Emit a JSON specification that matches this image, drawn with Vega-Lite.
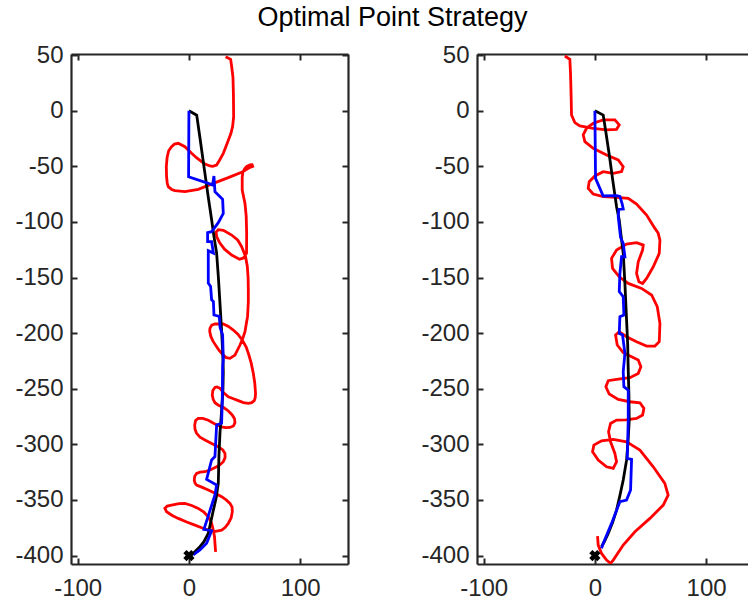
{
  "$schema": "https://vega.github.io/schema/vega-lite/v6.json",
  "background": "white",
  "padding": {"left": 14, "top": 4, "right": 0, "bottom": 0},
  "title": {"text": "Optimal Point Strategy", "font": "Liberation Sans", "fontSize": 27, "fontWeight": "normal", "color": "#000000", "anchor": "middle", "dx": 11, "offset": 11},
  "config": {
    "view": {"stroke": null},
    "axis": {"domainColor": "#262626", "domainWidth": 2.2, "tickColor": "#262626", "tickWidth": 2, "tickSize": -6, "labelFont": "Liberation Sans", "labelFontSize": 24, "labelColor": "#262626", "grid": false, "labelFlush": false, "labelOverlap": false, "labelBound": false, "labelExpr": "'' + datum.value"},
    "axisX": {"labelPadding": 18},
    "axisY": {"labelPadding": 14}
  },
  "datasets": {
    "left": [
      {"s":"actual","x":33,"y":48.6},{"s":"actual","x":37.5,"y":46.2},{"s":"actual","x":38.4,"y":40},{"s":"actual","x":39.6,"y":30},{"s":"actual","x":40,"y":15},{"s":"actual","x":40.2,"y":-5.4},{"s":"actual","x":39.3,"y":-14},{"s":"actual","x":37.8,"y":-20.3},{"s":"actual","x":34.5,"y":-29},{"s":"actual","x":30.9,"y":-38.3},{"s":"actual","x":27.5,"y":-44.5},{"s":"actual","x":24.9,"y":-48.8},{"s":"actual","x":21.5,"y":-50},{"s":"actual","x":18.9,"y":-49.7},{"s":"actual","x":14.5,"y":-48},{"s":"actual","x":11.4,"y":-45.8},{"s":"actual","x":6.5,"y":-42},{"s":"actual","x":2.4,"y":-38.3},{"s":"actual","x":-3.6,"y":-32.3},{"s":"actual","x":-9.6,"y":-29.3},{"s":"actual","x":-13,"y":-30},{"s":"actual","x":-15.6,"y":-32.3},{"s":"actual","x":-18.2,"y":-36},{"s":"actual","x":-19.6,"y":-42},{"s":"actual","x":-20.3,"y":-50},{"s":"actual","x":-20.1,"y":-59.3},{"s":"actual","x":-19.5,"y":-65},{"s":"actual","x":-18.6,"y":-68.3},{"s":"actual","x":-15.5,"y":-70.8},{"s":"actual","x":-12.6,"y":-71.9},{"s":"actual","x":-3.6,"y":-72.8},{"s":"actual","x":8.4,"y":-70.7},{"s":"actual","x":21.9,"y":-65.3},{"s":"actual","x":35.4,"y":-60.2},{"s":"actual","x":47.9,"y":-55.1},{"s":"actual","x":54.9,"y":-50.9},{"s":"actual","x":57.3,"y":-50},{"s":"actual","x":56.8,"y":-48.6},{"s":"actual","x":54.9,"y":-48.8},{"s":"actual","x":52,"y":-50},{"s":"actual","x":50.4,"y":-51.8},{"s":"actual","x":48.5,"y":-55},{"s":"actual","x":47.9,"y":-60},{"s":"actual","x":47.9,"y":-71.3},{"s":"actual","x":50.4,"y":-83.3},{"s":"actual","x":51.5,"y":-95},{"s":"actual","x":51.9,"y":-110},{"s":"actual","x":51.8,"y":-128},{"s":"actual","x":49,"y":-132.5},{"s":"actual","x":45.5,"y":-133.5},{"s":"actual","x":38.4,"y":-129.8},{"s":"actual","x":32,"y":-124.5},{"s":"actual","x":27.5,"y":-118.5},{"s":"actual","x":24.9,"y":-113.3},{"s":"actual","x":24.5,"y":-109},{"s":"actual","x":26.4,"y":-107},{"s":"actual","x":31,"y":-107.5},{"s":"actual","x":38.4,"y":-111.8},{"s":"actual","x":44,"y":-116.5},{"s":"actual","x":47.4,"y":-122.3},{"s":"actual","x":50.9,"y":-131},{"s":"actual","x":52.5,"y":-140},{"s":"actual","x":53.2,"y":-150},{"s":"actual","x":53.4,"y":-161.2},{"s":"actual","x":53.4,"y":-172},{"s":"actual","x":52.7,"y":-185.2},{"s":"actual","x":51.5,"y":-192},{"s":"actual","x":50.4,"y":-198.7},{"s":"actual","x":48.3,"y":-205},{"s":"actual","x":45.9,"y":-210.7},{"s":"actual","x":41.4,"y":-219.7},{"s":"actual","x":36.9,"y":-222.7},{"s":"actual","x":33.5,"y":-222},{"s":"actual","x":30.9,"y":-219.7},{"s":"actual","x":27.5,"y":-216},{"s":"actual","x":24.9,"y":-212.2},{"s":"actual","x":21.5,"y":-207},{"s":"actual","x":19.8,"y":-203.2},{"s":"actual","x":18.7,"y":-198.5},{"s":"actual","x":18.9,"y":-195.7},{"s":"actual","x":20.5,"y":-192.8},{"s":"actual","x":23.4,"y":-191.8},{"s":"actual","x":30.9,"y":-191.8},{"s":"actual","x":35.5,"y":-194},{"s":"actual","x":39.9,"y":-197.2},{"s":"actual","x":44,"y":-201},{"s":"actual","x":47.9,"y":-206.2},{"s":"actual","x":51.5,"y":-212.5},{"s":"actual","x":53.9,"y":-219.7},{"s":"actual","x":56,"y":-227},{"s":"actual","x":57.9,"y":-236.2},{"s":"actual","x":59.2,"y":-245},{"s":"actual","x":59.9,"y":-254.2},{"s":"actual","x":59.6,"y":-258},{"s":"actual","x":58.7,"y":-260.7},{"s":"actual","x":56.5,"y":-262.5},{"s":"actual","x":53.4,"y":-263.2},{"s":"actual","x":49,"y":-262.5},{"s":"actual","x":44.4,"y":-260.7},{"s":"actual","x":40,"y":-259},{"s":"actual","x":35.4,"y":-257.2},{"s":"actual","x":31,"y":-253.5},{"s":"actual","x":27.9,"y":-249.6},{"s":"actual","x":25.2,"y":-248.4},{"s":"actual","x":23.4,"y":-248.8},{"s":"actual","x":21.5,"y":-251.5},{"s":"actual","x":21,"y":-255.7},{"s":"actual","x":21.8,"y":-259.5},{"s":"actual","x":23.4,"y":-262.6},{"s":"actual","x":26.5,"y":-264.8},{"s":"actual","x":30.9,"y":-266.7},{"s":"actual","x":35.5,"y":-270},{"s":"actual","x":38.9,"y":-273.6},{"s":"actual","x":41,"y":-277},{"s":"actual","x":41.4,"y":-280.5},{"s":"actual","x":40,"y":-283.5},{"s":"actual","x":36.9,"y":-284.8},{"s":"actual","x":33,"y":-285},{"s":"actual","x":29.4,"y":-284.3},{"s":"actual","x":23,"y":-281.5},{"s":"actual","x":17.4,"y":-278.3},{"s":"actual","x":12.5,"y":-276.7},{"s":"actual","x":8.4,"y":-276.6},{"s":"actual","x":6,"y":-278.5},{"s":"actual","x":5.2,"y":-282.6},{"s":"actual","x":5.5,"y":-286.5},{"s":"actual","x":6.9,"y":-290.1},{"s":"actual","x":10,"y":-293.5},{"s":"actual","x":14.4,"y":-296.1},{"s":"actual","x":20,"y":-299},{"s":"actual","x":26.4,"y":-302.1},{"s":"actual","x":30.5,"y":-305},{"s":"actual","x":32.4,"y":-308.1},{"s":"actual","x":32.5,"y":-312},{"s":"actual","x":30.9,"y":-315.6},{"s":"actual","x":28,"y":-318.3},{"s":"actual","x":24.9,"y":-320.1},{"s":"actual","x":19.5,"y":-322.8},{"s":"actual","x":14.4,"y":-324.6},{"s":"actual","x":10,"y":-325},{"s":"actual","x":6.9,"y":-326.1},{"s":"actual","x":5.2,"y":-328.8},{"s":"actual","x":4.8,"y":-332.1},{"s":"actual","x":5.5,"y":-334.8},{"s":"actual","x":6.9,"y":-336.6},{"s":"actual","x":11.5,"y":-338.5},{"s":"actual","x":17.4,"y":-341.1},{"s":"actual","x":23.5,"y":-344},{"s":"actual","x":29.4,"y":-347.1},{"s":"actual","x":33.5,"y":-350},{"s":"actual","x":36.9,"y":-353.1},{"s":"actual","x":38.8,"y":-356.5},{"s":"actual","x":39,"y":-360.6},{"s":"actual","x":38,"y":-366},{"s":"actual","x":35.4,"y":-371.1},{"s":"actual","x":32.5,"y":-374.8},{"s":"actual","x":29.4,"y":-377.1},{"s":"actual","x":24,"y":-378.2},{"s":"actual","x":17.4,"y":-377.1},{"s":"actual","x":11.5,"y":-375},{"s":"actual","x":5.4,"y":-372.6},{"s":"actual","x":-2,"y":-369.8},{"s":"actual","x":-9.6,"y":-366.6},{"s":"actual","x":-15,"y":-364},{"s":"actual","x":-20.1,"y":-360.6},{"s":"actual","x":-21.6,"y":-357.6},{"s":"actual","x":-19.5,"y":-355.5},{"s":"actual","x":-15.6,"y":-354.6},{"s":"actual","x":-9,"y":-353.3},{"s":"actual","x":-3.6,"y":-353.1},{"s":"actual","x":2.5,"y":-355},{"s":"actual","x":8.4,"y":-357.6},{"s":"actual","x":13.5,"y":-361},{"s":"actual","x":17.4,"y":-365.1},{"s":"actual","x":20.3,"y":-370.5},{"s":"actual","x":21.9,"y":-377.1},{"s":"actual","x":23,"y":-383},{"s":"actual","x":23.4,"y":-389.1},{"s":"actual","x":24,"y":-396.6},
      {"s":"reference","x":0,"y":0},{"s":"reference","x":7,"y":-4},{"s":"reference","x":10,"y":-25},{"s":"reference","x":13.5,"y":-50},{"s":"reference","x":17,"y":-75},{"s":"reference","x":20.4,"y":-98},{"s":"reference","x":22.5,"y":-113},{"s":"reference","x":24.9,"y":-128},{"s":"reference","x":26.5,"y":-150},{"s":"reference","x":27.9,"y":-173},{"s":"reference","x":29.5,"y":-200},{"s":"reference","x":30.5,"y":-220},{"s":"reference","x":30.9,"y":-235},{"s":"reference","x":30.6,"y":-250},{"s":"reference","x":30,"y":-260},{"s":"reference","x":29,"y":-275},{"s":"reference","x":27.9,"y":-290},{"s":"reference","x":27,"y":-310},{"s":"reference","x":26.4,"y":-335},{"s":"reference","x":24.5,"y":-348},{"s":"reference","x":22,"y":-359},{"s":"reference","x":17.4,"y":-380},{"s":"reference","x":13.5,"y":-387.5},{"s":"reference","x":9.9,"y":-392},{"s":"reference","x":6,"y":-396},{"s":"reference","x":2.4,"y":-399.5},
      {"s":"optimal","x":0,"y":0},{"s":"optimal","x":-0.3,"y":-59.4},{"s":"optimal","x":17.4,"y":-65.3},{"s":"optimal","x":21.3,"y":-66.8},{"s":"optimal","x":22.5,"y":-58.7},{"s":"optimal","x":23.4,"y":-72.8},{"s":"optimal","x":26.4,"y":-75.8},{"s":"optimal","x":30.3,"y":-79.7},{"s":"optimal","x":30.9,"y":-92.3},{"s":"optimal","x":26.4,"y":-100.7},{"s":"optimal","x":20.4,"y":-108.8},{"s":"optimal","x":16.8,"y":-109.7},{"s":"optimal","x":16.8,"y":-117.8},{"s":"optimal","x":20.4,"y":-117.8},{"s":"optimal","x":22,"y":-128},{"s":"optimal","x":17.4,"y":-125.8},{"s":"optimal","x":17.4,"y":-155},{"s":"optimal","x":19.5,"y":-158},{"s":"optimal","x":20.4,"y":-170},{"s":"optimal","x":22,"y":-171.6},{"s":"optimal","x":22.5,"y":-183.7},{"s":"optimal","x":27.3,"y":-185},{"s":"optimal","x":28,"y":-195},{"s":"optimal","x":30.3,"y":-201.7},{"s":"optimal","x":30.9,"y":-224},{"s":"optimal","x":30.3,"y":-230},{"s":"optimal","x":30,"y":-260},{"s":"optimal","x":29.4,"y":-281},{"s":"optimal","x":24.9,"y":-282.6},{"s":"optimal","x":23.4,"y":-311},{"s":"optimal","x":20.4,"y":-314},{"s":"optimal","x":15.9,"y":-331.5},{"s":"optimal","x":24.9,"y":-336.6},{"s":"optimal","x":23.4,"y":-345.6},{"s":"optimal","x":13.5,"y":-376.4},{"s":"optimal","x":20.4,"y":-377.7},{"s":"optimal","x":15.9,"y":-389},{"s":"optimal","x":9.9,"y":-395},{"s":"optimal","x":3.9,"y":-399.5}
    ],
    "right": [
      {"s":"actual","x":-27,"y":49.2},{"s":"actual","x":-22.5,"y":46.2},{"s":"actual","x":-21.9,"y":33.6},{"s":"actual","x":-21.4,"y":15},{"s":"actual","x":-21,"y":-3.8},{"s":"actual","x":-18,"y":-10.7},{"s":"actual","x":-13.5,"y":-13.7},{"s":"actual","x":-1.5,"y":-15.8},{"s":"actual","x":10.5,"y":-17.3},{"s":"actual","x":19.5,"y":-16.7},{"s":"actual","x":21.9,"y":-12.8},{"s":"actual","x":18,"y":-8.3},{"s":"actual","x":7.5,"y":-8.3},{"s":"actual","x":-1.5,"y":-11.3},{"s":"actual","x":-7.5,"y":-15.8},{"s":"actual","x":-10.5,"y":-21.8},{"s":"actual","x":-9,"y":-27.8},{"s":"actual","x":-1.5,"y":-33.8},{"s":"actual","x":10.5,"y":-39.8},{"s":"actual","x":21,"y":-44.3},{"s":"actual","x":25.5,"y":-50.3},{"s":"actual","x":24,"y":-54.8},{"s":"actual","x":16.5,"y":-56.3},{"s":"actual","x":7.5,"y":-54.8},{"s":"actual","x":0,"y":-58.7},{"s":"actual","x":-5.1,"y":-63.8},{"s":"actual","x":-6,"y":-69.8},{"s":"actual","x":-1.5,"y":-74.9},{"s":"actual","x":7.5,"y":-77.3},{"s":"actual","x":19.5,"y":-77.9},{"s":"actual","x":30,"y":-78.8},{"s":"actual","x":37.5,"y":-83.9},{"s":"actual","x":46.5,"y":-93.8},{"s":"actual","x":54,"y":-105.8},{"s":"actual","x":56.9,"y":-110},{"s":"actual","x":58.5,"y":-116.3},{"s":"actual","x":57.9,"y":-128.3},{"s":"actual","x":52.5,"y":-140.3},{"s":"actual","x":46.5,"y":-150.8},{"s":"actual","x":42.9,"y":-155.3},{"s":"actual","x":39.6,"y":-153.8},{"s":"actual","x":37.5,"y":-146.3},{"s":"actual","x":39,"y":-135.8},{"s":"actual","x":42.9,"y":-125.3},{"s":"actual","x":43.5,"y":-120.8},{"s":"actual","x":37.5,"y":-118.7},{"s":"actual","x":28.5,"y":-119.9},{"s":"actual","x":19.5,"y":-125.3},{"s":"actual","x":15,"y":-132.8},{"s":"actual","x":15.9,"y":-141.8},{"s":"actual","x":21.9,"y":-149.3},{"s":"actual","x":30,"y":-155.3},{"s":"actual","x":42,"y":-159.8},{"s":"actual","x":51,"y":-165.7},{"s":"actual","x":56.1,"y":-176.2},{"s":"actual","x":58.5,"y":-191.2},{"s":"actual","x":57.9,"y":-207.7},{"s":"actual","x":54,"y":-211.6},{"s":"actual","x":46.5,"y":-211.6},{"s":"actual","x":37.5,"y":-207.7},{"s":"actual","x":28.5,"y":-203.2},{"s":"actual","x":21.9,"y":-198.7},{"s":"actual","x":18.6,"y":-201.7},{"s":"actual","x":20.1,"y":-210.7},{"s":"actual","x":25.5,"y":-217.6},{"s":"actual","x":33,"y":-221.2},{"s":"actual","x":39,"y":-224.2},{"s":"actual","x":41.4,"y":-230.2},{"s":"actual","x":39,"y":-236.2},{"s":"actual","x":31.5,"y":-240.1},{"s":"actual","x":19.5,"y":-241.6},{"s":"actual","x":12,"y":-242.8},{"s":"actual","x":9.9,"y":-248.2},{"s":"actual","x":12.9,"y":-254.8},{"s":"actual","x":21,"y":-259.6},{"s":"actual","x":31.5,"y":-261.7},{"s":"actual","x":40.5,"y":-262.6},{"s":"actual","x":44.1,"y":-267.7},{"s":"actual","x":42.9,"y":-273.7},{"s":"actual","x":37.5,"y":-276.7},{"s":"actual","x":28,"y":-278},{"s":"actual","x":19.5,"y":-278.2},{"s":"actual","x":14.1,"y":-281.2},{"s":"actual","x":12.3,"y":-288.7},{"s":"actual","x":14.1,"y":-297.7},{"s":"actual","x":18,"y":-308.2},{"s":"actual","x":19.5,"y":-315.7},{"s":"actual","x":16.5,"y":-321.7},{"s":"actual","x":10.5,"y":-320.2},{"s":"actual","x":3,"y":-314.2},{"s":"actual","x":-2.1,"y":-306.7},{"s":"actual","x":-0.9,"y":-300.7},{"s":"actual","x":6,"y":-296.8},{"s":"actual","x":16.5,"y":-295.6},{"s":"actual","x":28.5,"y":-297.7},{"s":"actual","x":40.5,"y":-305.2},{"s":"actual","x":52.5,"y":-320.2},{"s":"actual","x":62.9,"y":-335.1},{"s":"actual","x":65.9,"y":-345.6},{"s":"actual","x":61.5,"y":-354.6},{"s":"actual","x":49.5,"y":-366.6},{"s":"actual","x":36,"y":-378.6},{"s":"actual","x":25.5,"y":-390.6},{"s":"actual","x":16.5,"y":-404.1},{"s":"actual","x":14.1,"y":-407},{"s":"actual","x":10.5,"y":-404.1},{"s":"actual","x":6,"y":-398.1},{"s":"actual","x":3,"y":-390.6},{"s":"actual","x":2.4,"y":-382.5},
      {"s":"reference","x":0,"y":0},{"s":"reference","x":7.5,"y":-3.9},{"s":"reference","x":10,"y":-20},{"s":"reference","x":13,"y":-40},{"s":"reference","x":16,"y":-62},{"s":"reference","x":19.5,"y":-86.3},{"s":"reference","x":21.9,"y":-98.3},{"s":"reference","x":23.5,"y":-112},{"s":"reference","x":25.5,"y":-128.3},{"s":"reference","x":27,"y":-155},{"s":"reference","x":28.5,"y":-188.2},{"s":"reference","x":29.5,"y":-210},{"s":"reference","x":30,"y":-233.2},{"s":"reference","x":30.6,"y":-255},{"s":"reference","x":30.9,"y":-278.2},{"s":"reference","x":30,"y":-295},{"s":"reference","x":28.5,"y":-314.2},{"s":"reference","x":25.5,"y":-332.1},{"s":"reference","x":22.5,"y":-346},{"s":"reference","x":19.5,"y":-359.1},{"s":"reference","x":16,"y":-370},{"s":"reference","x":12,"y":-380.1},{"s":"reference","x":9,"y":-386.5},{"s":"reference","x":6,"y":-392.1},
      {"s":"optimal","x":0,"y":0},{"s":"optimal","x":0.6,"y":-60.8},{"s":"optimal","x":7.5,"y":-76.7},{"s":"optimal","x":19.5,"y":-76.4},{"s":"optimal","x":22.5,"y":-77},{"s":"optimal","x":24.6,"y":-84},{"s":"optimal","x":25.5,"y":-88.4},{"s":"optimal","x":21.5,"y":-88.6},{"s":"optimal","x":21,"y":-95.3},{"s":"optimal","x":23.1,"y":-114},{"s":"optimal","x":25.5,"y":-119.3},{"s":"optimal","x":27,"y":-131.3},{"s":"optimal","x":24,"y":-131.3},{"s":"optimal","x":22.5,"y":-146.3},{"s":"optimal","x":21.9,"y":-162.7},{"s":"optimal","x":25.5,"y":-167.2},{"s":"optimal","x":26.1,"y":-183.7},{"s":"optimal","x":22.5,"y":-185.2},{"s":"optimal","x":21.9,"y":-200.2},{"s":"optimal","x":24.9,"y":-201.7},{"s":"optimal","x":27,"y":-218.2},{"s":"optimal","x":25.5,"y":-234.7},{"s":"optimal","x":26.1,"y":-248.2},{"s":"optimal","x":30,"y":-251.2},{"s":"optimal","x":30,"y":-278.2},{"s":"optimal","x":29.1,"y":-312.7},{"s":"optimal","x":33,"y":-313.6},{"s":"optimal","x":32.1,"y":-341.1},{"s":"optimal","x":28.5,"y":-350.1},{"s":"optimal","x":22.5,"y":-351.6},{"s":"optimal","x":15,"y":-371.1},{"s":"optimal","x":7.5,"y":-389.1},{"s":"optimal","x":6,"y":-393.6}
    ],
    "goal": [{"x": 0, "y": -400}]
  },
  "bounds": "flush",
  "spacing": 129,
  "hconcat": [
    {
      "width": 277, "height": 510,
      "data": {"name": "left"},
      "layer": [
        {"transform": [{"filter": "datum.s === 'actual'"}],
         "mark": {"type": "line", "color": "#ff0000", "strokeWidth": 2.8, "clip": true},
         "encoding": {
           "x": {"field": "x", "type": "quantitative", "scale": {"domain": [-106, 143], "nice": false, "zero": false}, "axis": {"orient": "bottom", "values": [-100, 0, 100], "title": null}},
           "y": {"field": "y", "type": "quantitative", "scale": {"domain": [-407.6, 51], "nice": false, "zero": false}, "axis": {"orient": "left", "values": [-400, -350, -300, -250, -200, -150, -100, -50, 0, 50], "title": null}},
           "order": {"value": null}}},
        {"transform": [{"filter": "datum.s === 'reference'"}],
         "mark": {"type": "line", "color": "#000000", "strokeWidth": 2.8, "clip": true},
         "encoding": {
           "x": {"field": "x", "type": "quantitative", "scale": {"domain": [-106, 143], "nice": false, "zero": false}, "axis": null},
           "y": {"field": "y", "type": "quantitative", "scale": {"domain": [-407.6, 51], "nice": false, "zero": false}, "axis": null},
           "order": {"value": null}}},
        {"transform": [{"filter": "datum.s === 'optimal'"}],
         "mark": {"type": "line", "color": "#0000ff", "strokeWidth": 2.8, "clip": true},
         "encoding": {
           "x": {"field": "x", "type": "quantitative", "scale": {"domain": [-106, 143], "nice": false, "zero": false}, "axis": null},
           "y": {"field": "y", "type": "quantitative", "scale": {"domain": [-407.6, 51], "nice": false, "zero": false}, "axis": null},
           "order": {"value": null}}},
        {"data": {"name": "goal"},
         "mark": {"type": "point", "shape": "cross", "angle": 45, "filled": true, "color": "#000000", "opacity": 1, "size": 130},
         "encoding": {
           "x": {"field": "x", "type": "quantitative", "scale": {"domain": [-106, 143], "nice": false, "zero": false}, "axis": {"orient": "top", "values": [-100, 0, 100], "labels": false, "title": null}},
           "y": {"field": "y", "type": "quantitative", "scale": {"domain": [-407.6, 51], "nice": false, "zero": false}, "axis": {"orient": "right", "values": [-400, -350, -300, -250, -200, -150, -100, -50, 0, 50], "labels": false, "title": null}}}}
      ],
      "resolve": {"axis": {"x": "independent", "y": "independent"}}
    },
    {
      "width": 271, "height": 510,
      "data": {"name": "right"},
      "layer": [
        {"transform": [{"filter": "datum.s === 'actual'"}],
         "mark": {"type": "line", "color": "#ff0000", "strokeWidth": 2.8, "clip": true},
         "encoding": {
           "x": {"field": "x", "type": "quantitative", "scale": {"domain": [-106, 137.7], "nice": false, "zero": false}, "axis": {"orient": "bottom", "values": [-100, 0, 100], "title": null}},
           "y": {"field": "y", "type": "quantitative", "scale": {"domain": [-407.6, 51], "nice": false, "zero": false}, "axis": {"orient": "left", "values": [-400, -350, -300, -250, -200, -150, -100, -50, 0, 50], "title": null}},
           "order": {"value": null}}},
        {"transform": [{"filter": "datum.s === 'reference'"}],
         "mark": {"type": "line", "color": "#000000", "strokeWidth": 2.8, "clip": true},
         "encoding": {
           "x": {"field": "x", "type": "quantitative", "scale": {"domain": [-106, 137.7], "nice": false, "zero": false}, "axis": null},
           "y": {"field": "y", "type": "quantitative", "scale": {"domain": [-407.6, 51], "nice": false, "zero": false}, "axis": null},
           "order": {"value": null}}},
        {"transform": [{"filter": "datum.s === 'optimal'"}],
         "mark": {"type": "line", "color": "#0000ff", "strokeWidth": 2.8, "clip": true},
         "encoding": {
           "x": {"field": "x", "type": "quantitative", "scale": {"domain": [-106, 137.7], "nice": false, "zero": false}, "axis": null},
           "y": {"field": "y", "type": "quantitative", "scale": {"domain": [-407.6, 51], "nice": false, "zero": false}, "axis": null},
           "order": {"value": null}}},
        {"data": {"name": "goal"},
         "mark": {"type": "point", "shape": "cross", "angle": 45, "filled": true, "color": "#000000", "opacity": 1, "size": 130},
         "encoding": {
           "x": {"field": "x", "type": "quantitative", "scale": {"domain": [-106, 137.7], "nice": false, "zero": false}, "axis": {"orient": "top", "values": [-100, 0, 100], "labels": false, "title": null}},
           "y": {"field": "y", "type": "quantitative", "scale": {"domain": [-407.6, 51], "nice": false, "zero": false}, "axis": null}}}
      ],
      "resolve": {"axis": {"x": "independent", "y": "independent"}}
    }
  ]
}
